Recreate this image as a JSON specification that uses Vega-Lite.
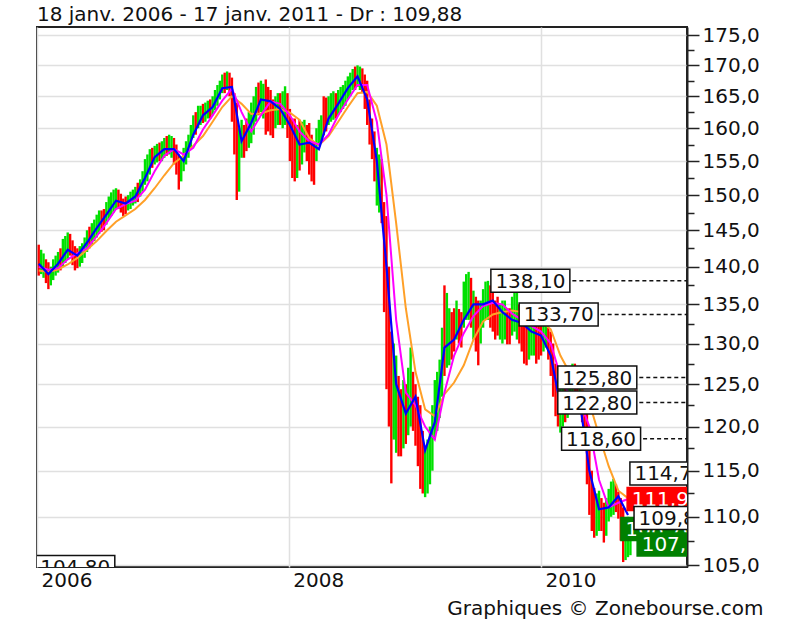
{
  "$schema": "https://vega.github.io/schema/vega-lite/v6.json",
  "width": 650,
  "height": 540,
  "autosize": "none",
  "padding": {"left": 37, "top": 27, "right": 113, "bottom": 55},
  "background": "#ffffff",
  "title": {"text": "18 janv. 2006 - 17 janv. 2011 - Dr : 109,88", "anchor": "start", "frame": "group", "font": "DejaVu Sans", "fontSize": 20, "fontWeight": "normal", "color": "#111111", "offset": 2, "baseline": "bottom", "dy": 22},
  "config": {"view": {"stroke": "#222222", "strokeWidth": 2}},
  "datasets": {
    "bars": [
      {"d":"2006-01-06","l":138.8,"h":143.0,"u":0},
      {"d":"2006-01-20","l":138.5,"h":141.8,"u":1},
      {"d":"2006-02-03","l":137.0,"h":140.6,"u":0},
      {"d":"2006-02-17","l":138.2,"h":141.0,"u":1},
      {"d":"2006-03-03","l":139.2,"h":142.0,"u":1},
      {"d":"2006-03-17","l":140.0,"h":143.8,"u":1},
      {"d":"2006-03-31","l":141.0,"h":144.7,"u":1},
      {"d":"2006-04-14","l":140.2,"h":143.6,"u":0},
      {"d":"2006-04-28","l":139.8,"h":142.5,"u":0},
      {"d":"2006-05-12","l":140.5,"h":143.2,"u":1},
      {"d":"2006-05-26","l":142.0,"h":145.0,"u":1},
      {"d":"2006-06-09","l":143.0,"h":146.0,"u":1},
      {"d":"2006-06-23","l":144.0,"h":147.2,"u":1},
      {"d":"2006-07-07","l":144.8,"h":147.8,"u":0},
      {"d":"2006-07-21","l":145.8,"h":149.0,"u":1},
      {"d":"2006-08-04","l":147.0,"h":150.4,"u":1},
      {"d":"2006-08-18","l":148.0,"h":151.0,"u":1},
      {"d":"2006-09-01","l":147.5,"h":150.2,"u":0},
      {"d":"2006-09-15","l":147.3,"h":149.8,"u":0},
      {"d":"2006-09-29","l":148.0,"h":150.5,"u":1},
      {"d":"2006-10-13","l":148.8,"h":151.2,"u":1},
      {"d":"2006-10-27","l":149.8,"h":152.3,"u":1},
      {"d":"2006-11-10","l":151.5,"h":155.3,"u":1},
      {"d":"2006-11-24","l":153.0,"h":156.8,"u":1},
      {"d":"2006-12-08","l":154.5,"h":157.3,"u":1},
      {"d":"2006-12-22","l":155.0,"h":157.8,"u":0},
      {"d":"2007-01-05","l":155.5,"h":158.5,"u":1},
      {"d":"2007-01-19","l":156.0,"h":159.0,"u":1},
      {"d":"2007-02-02","l":154.5,"h":158.5,"u":0},
      {"d":"2007-02-16","l":150.8,"h":156.0,"u":0},
      {"d":"2007-03-02","l":153.5,"h":157.0,"u":1},
      {"d":"2007-03-16","l":155.5,"h":159.0,"u":1},
      {"d":"2007-03-30","l":158.5,"h":162.0,"u":1},
      {"d":"2007-04-13","l":160.0,"h":163.5,"u":1},
      {"d":"2007-04-27","l":160.8,"h":163.8,"u":0},
      {"d":"2007-05-11","l":161.5,"h":164.3,"u":1},
      {"d":"2007-05-25","l":162.0,"h":165.0,"u":1},
      {"d":"2007-06-08","l":163.5,"h":166.8,"u":1},
      {"d":"2007-06-22","l":165.5,"h":168.5,"u":1},
      {"d":"2007-07-06","l":166.0,"h":169.0,"u":1},
      {"d":"2007-07-20","l":161.0,"h":168.0,"u":0},
      {"d":"2007-08-03","l":149.3,"h":164.0,"u":0},
      {"d":"2007-08-17","l":155.5,"h":161.3,"u":1},
      {"d":"2007-08-31","l":156.5,"h":161.5,"u":0},
      {"d":"2007-09-14","l":157.7,"h":164.0,"u":1},
      {"d":"2007-09-28","l":161.0,"h":166.5,"u":1},
      {"d":"2007-10-12","l":162.5,"h":167.5,"u":1},
      {"d":"2007-10-26","l":159.0,"h":167.7,"u":0},
      {"d":"2007-11-09","l":158.9,"h":166.0,"u":0},
      {"d":"2007-11-23","l":160.0,"h":165.0,"u":1},
      {"d":"2007-12-07","l":160.5,"h":165.5,"u":0},
      {"d":"2007-12-21","l":160.5,"h":166.6,"u":1},
      {"d":"2008-01-04","l":155.0,"h":163.0,"u":0},
      {"d":"2008-01-18","l":152.0,"h":161.5,"u":0},
      {"d":"2008-02-01","l":153.6,"h":161.3,"u":0},
      {"d":"2008-02-15","l":156.3,"h":161.3,"u":1},
      {"d":"2008-02-29","l":153.0,"h":160.8,"u":0},
      {"d":"2008-03-14","l":151.5,"h":158.0,"u":0},
      {"d":"2008-03-28","l":157.7,"h":161.3,"u":1},
      {"d":"2008-04-11","l":158.9,"h":165.0,"u":0},
      {"d":"2008-04-25","l":160.5,"h":165.0,"u":1},
      {"d":"2008-05-09","l":161.3,"h":165.8,"u":1},
      {"d":"2008-05-23","l":162.0,"h":166.0,"u":1},
      {"d":"2008-06-06","l":163.0,"h":166.8,"u":1},
      {"d":"2008-06-20","l":164.5,"h":168.2,"u":1},
      {"d":"2008-07-04","l":166.0,"h":169.4,"u":1},
      {"d":"2008-07-18","l":166.5,"h":170.0,"u":1},
      {"d":"2008-08-01","l":165.5,"h":169.5,"u":0},
      {"d":"2008-08-15","l":160.5,"h":167.5,"u":0},
      {"d":"2008-08-29","l":155.3,"h":161.5,"u":0},
      {"d":"2008-09-12","l":148.5,"h":157.0,"u":1},
      {"d":"2008-09-26","l":146.0,"h":155.3,"u":0},
      {"d":"2008-10-10","l":124.4,"h":147.0,"u":0},
      {"d":"2008-10-24","l":113.6,"h":131.5,"u":0},
      {"d":"2008-11-07","l":117.0,"h":128.5,"u":1},
      {"d":"2008-11-21","l":116.6,"h":124.4,"u":0},
      {"d":"2008-12-05","l":118.0,"h":125.0,"u":0},
      {"d":"2008-12-19","l":120.0,"h":129.5,"u":1},
      {"d":"2009-01-02","l":117.8,"h":125.0,"u":0},
      {"d":"2009-01-16","l":113.0,"h":122.5,"u":0},
      {"d":"2009-01-30","l":112.1,"h":117.5,"u":1},
      {"d":"2009-02-13","l":113.5,"h":120.0,"u":1},
      {"d":"2009-02-27","l":118.5,"h":125.5,"u":1},
      {"d":"2009-03-13","l":121.0,"h":128.0,"u":1},
      {"d":"2009-03-27","l":126.0,"h":137.5,"u":0},
      {"d":"2009-04-10","l":127.3,"h":134.5,"u":1},
      {"d":"2009-04-24","l":129.0,"h":134.5,"u":0},
      {"d":"2009-05-08","l":130.0,"h":134.4,"u":0},
      {"d":"2009-05-22","l":132.0,"h":138.0,"u":1},
      {"d":"2009-06-05","l":133.0,"h":139.3,"u":1},
      {"d":"2009-06-19","l":130.5,"h":136.8,"u":1},
      {"d":"2009-07-03","l":127.3,"h":135.5,"u":0},
      {"d":"2009-07-17","l":132.0,"h":137.0,"u":1},
      {"d":"2009-07-31","l":133.0,"h":138.1,"u":1},
      {"d":"2009-08-14","l":131.5,"h":137.0,"u":0},
      {"d":"2009-08-28","l":131.0,"h":136.0,"u":0},
      {"d":"2009-09-11","l":130.0,"h":135.5,"u":1},
      {"d":"2009-09-25","l":129.9,"h":134.5,"u":0},
      {"d":"2009-10-09","l":131.0,"h":136.0,"u":1},
      {"d":"2009-10-23","l":130.5,"h":136.8,"u":1},
      {"d":"2009-11-06","l":129.0,"h":134.0,"u":0},
      {"d":"2009-11-20","l":127.3,"h":133.5,"u":0},
      {"d":"2009-12-04","l":128.5,"h":133.5,"u":1},
      {"d":"2009-12-18","l":127.5,"h":132.8,"u":0},
      {"d":"2010-01-01","l":128.5,"h":133.4,"u":0},
      {"d":"2010-01-15","l":129.5,"h":132.6,"u":1},
      {"d":"2010-01-29","l":126.0,"h":131.5,"u":0},
      {"d":"2010-02-12","l":121.2,"h":127.5,"u":0},
      {"d":"2010-02-26","l":119.3,"h":125.1,"u":1},
      {"d":"2010-03-12","l":120.5,"h":124.5,"u":0},
      {"d":"2010-03-26","l":121.5,"h":126.0,"u":1},
      {"d":"2010-04-09","l":122.0,"h":127.5,"u":0},
      {"d":"2010-04-23","l":121.6,"h":125.5,"u":1},
      {"d":"2010-05-07","l":118.0,"h":123.5,"u":0},
      {"d":"2010-05-21","l":110.2,"h":120.0,"u":0},
      {"d":"2010-06-04","l":107.8,"h":113.1,"u":0},
      {"d":"2010-06-18","l":108.5,"h":112.8,"u":1},
      {"d":"2010-07-02","l":107.3,"h":111.5,"u":0},
      {"d":"2010-07-16","l":109.5,"h":113.0,"u":1},
      {"d":"2010-07-30","l":110.2,"h":114.1,"u":1},
      {"d":"2010-08-13","l":109.8,"h":112.7,"u":0},
      {"d":"2010-08-27","l":105.3,"h":111.0,"u":0},
      {"d":"2010-09-10","l":105.8,"h":110.0,"u":1},
      {"d":"2006-01-13","l":139.0,"h":142.3,"u":1},
      {"d":"2006-01-27","l":137.8,"h":141.0,"u":0},
      {"d":"2006-02-10","l":137.5,"h":140.0,"u":1},
      {"d":"2006-02-24","l":138.8,"h":141.5,"u":1},
      {"d":"2006-03-10","l":139.5,"h":142.5,"u":0},
      {"d":"2006-03-24","l":140.5,"h":144.2,"u":1},
      {"d":"2006-04-07","l":141.5,"h":144.5,"u":0},
      {"d":"2006-04-21","l":139.5,"h":142.8,"u":0},
      {"d":"2006-05-05","l":140.0,"h":142.8,"u":1},
      {"d":"2006-05-19","l":141.2,"h":144.0,"u":1},
      {"d":"2006-06-02","l":142.5,"h":145.5,"u":0},
      {"d":"2006-06-16","l":143.5,"h":146.5,"u":1},
      {"d":"2006-06-30","l":144.5,"h":147.8,"u":1},
      {"d":"2006-07-14","l":145.0,"h":148.0,"u":0},
      {"d":"2006-07-28","l":146.5,"h":149.8,"u":1},
      {"d":"2006-08-11","l":147.5,"h":150.8,"u":1},
      {"d":"2006-08-25","l":148.0,"h":150.8,"u":0},
      {"d":"2006-09-08","l":147.0,"h":149.5,"u":0},
      {"d":"2006-09-22","l":147.8,"h":150.0,"u":1},
      {"d":"2006-10-06","l":148.5,"h":150.8,"u":1},
      {"d":"2006-10-20","l":149.0,"h":151.8,"u":0},
      {"d":"2006-11-03","l":150.5,"h":153.5,"u":1},
      {"d":"2006-11-17","l":152.0,"h":156.0,"u":1},
      {"d":"2006-12-01","l":154.0,"h":157.0,"u":0},
      {"d":"2006-12-15","l":154.8,"h":157.6,"u":1},
      {"d":"2006-12-29","l":155.0,"h":158.0,"u":1},
      {"d":"2007-01-12","l":155.8,"h":158.8,"u":0},
      {"d":"2007-01-26","l":155.5,"h":158.8,"u":1},
      {"d":"2007-02-09","l":153.0,"h":157.5,"u":0},
      {"d":"2007-02-23","l":152.0,"h":155.5,"u":1},
      {"d":"2007-03-09","l":154.5,"h":158.0,"u":1},
      {"d":"2007-03-23","l":157.0,"h":160.5,"u":1},
      {"d":"2007-04-06","l":159.0,"h":162.5,"u":0},
      {"d":"2007-04-20","l":160.5,"h":163.5,"u":1},
      {"d":"2007-05-04","l":161.0,"h":164.0,"u":1},
      {"d":"2007-05-18","l":161.5,"h":164.5,"u":0},
      {"d":"2007-06-01","l":162.8,"h":166.0,"u":1},
      {"d":"2007-06-15","l":164.5,"h":167.5,"u":1},
      {"d":"2007-06-29","l":165.5,"h":168.8,"u":0},
      {"d":"2007-07-13","l":165.0,"h":168.8,"u":0},
      {"d":"2007-07-27","l":156.0,"h":165.5,"u":0},
      {"d":"2007-08-10","l":150.5,"h":160.0,"u":1},
      {"d":"2007-08-24","l":155.5,"h":160.5,"u":0},
      {"d":"2007-09-07","l":157.0,"h":162.5,"u":1},
      {"d":"2007-09-21","l":159.0,"h":165.0,"u":1},
      {"d":"2007-10-05","l":162.0,"h":167.2,"u":0},
      {"d":"2007-10-19","l":161.5,"h":167.0,"u":1},
      {"d":"2007-11-02","l":159.5,"h":166.5,"u":0},
      {"d":"2007-11-16","l":158.5,"h":164.5,"u":0},
      {"d":"2007-11-30","l":160.5,"h":165.5,"u":1},
      {"d":"2007-12-14","l":160.0,"h":165.8,"u":1},
      {"d":"2007-12-28","l":158.5,"h":165.5,"u":0},
      {"d":"2008-01-11","l":152.5,"h":161.5,"u":0},
      {"d":"2008-01-25","l":152.5,"h":160.5,"u":1},
      {"d":"2008-02-08","l":154.5,"h":161.0,"u":1},
      {"d":"2008-02-22","l":155.0,"h":160.5,"u":0},
      {"d":"2008-03-07","l":152.0,"h":159.0,"u":0},
      {"d":"2008-03-21","l":155.0,"h":160.0,"u":1},
      {"d":"2008-04-04","l":158.0,"h":162.0,"u":1},
      {"d":"2008-04-18","l":159.5,"h":164.8,"u":0},
      {"d":"2008-05-02","l":161.0,"h":165.5,"u":1},
      {"d":"2008-05-16","l":161.5,"h":165.5,"u":0},
      {"d":"2008-05-30","l":162.5,"h":166.5,"u":1},
      {"d":"2008-06-13","l":163.5,"h":167.5,"u":1},
      {"d":"2008-06-27","l":165.0,"h":168.8,"u":1},
      {"d":"2008-07-11","l":166.0,"h":169.8,"u":0},
      {"d":"2008-07-25","l":166.0,"h":169.8,"u":1},
      {"d":"2008-08-08","l":163.0,"h":168.5,"u":0},
      {"d":"2008-08-22","l":157.5,"h":164.5,"u":0},
      {"d":"2008-09-05","l":152.0,"h":159.5,"u":0},
      {"d":"2008-09-19","l":147.5,"h":156.0,"u":1},
      {"d":"2008-10-03","l":134.0,"h":149.0,"u":0},
      {"d":"2008-10-17","l":120.0,"h":140.0,"u":0},
      {"d":"2008-10-31","l":118.5,"h":130.0,"u":1},
      {"d":"2008-11-14","l":116.6,"h":126.0,"u":0},
      {"d":"2008-11-28","l":117.5,"h":125.5,"u":1},
      {"d":"2008-12-12","l":119.0,"h":127.0,"u":1},
      {"d":"2008-12-26","l":119.5,"h":126.5,"u":0},
      {"d":"2009-01-09","l":115.5,"h":123.5,"u":0},
      {"d":"2009-01-23","l":112.5,"h":119.5,"u":0},
      {"d":"2009-02-06","l":112.5,"h":118.5,"u":1},
      {"d":"2009-02-20","l":115.0,"h":122.5,"u":1},
      {"d":"2009-03-06","l":119.5,"h":126.5,"u":1},
      {"d":"2009-03-20","l":123.5,"h":132.0,"u":1},
      {"d":"2009-04-03","l":127.0,"h":136.5,"u":1},
      {"d":"2009-04-17","l":128.0,"h":134.0,"u":0},
      {"d":"2009-05-01","l":130.5,"h":135.5,"u":1},
      {"d":"2009-05-15","l":129.5,"h":134.0,"u":0},
      {"d":"2009-05-29","l":133.0,"h":139.0,"u":1},
      {"d":"2009-06-12","l":132.0,"h":138.5,"u":0},
      {"d":"2009-06-26","l":129.0,"h":136.0,"u":0},
      {"d":"2009-07-10","l":130.0,"h":135.5,"u":1},
      {"d":"2009-07-24","l":133.0,"h":138.0,"u":1},
      {"d":"2009-08-07","l":132.0,"h":137.5,"u":0},
      {"d":"2009-08-21","l":130.5,"h":135.5,"u":0},
      {"d":"2009-09-04","l":130.5,"h":135.0,"u":1},
      {"d":"2009-09-18","l":130.5,"h":135.5,"u":1},
      {"d":"2009-10-02","l":129.9,"h":134.5,"u":0},
      {"d":"2009-10-16","l":131.5,"h":136.8,"u":1},
      {"d":"2009-10-30","l":130.0,"h":135.0,"u":0},
      {"d":"2009-11-13","l":127.5,"h":133.0,"u":0},
      {"d":"2009-11-27","l":128.0,"h":133.5,"u":1},
      {"d":"2009-12-11","l":128.5,"h":133.0,"u":1},
      {"d":"2009-12-25","l":128.0,"h":132.5,"u":0},
      {"d":"2010-01-08","l":129.0,"h":133.4,"u":1},
      {"d":"2010-01-22","l":128.0,"h":132.0,"u":0},
      {"d":"2010-02-05","l":123.5,"h":130.0,"u":0},
      {"d":"2010-02-19","l":120.0,"h":125.5,"u":0},
      {"d":"2010-03-05","l":120.0,"h":124.5,"u":1},
      {"d":"2010-03-19","l":121.0,"h":125.0,"u":1},
      {"d":"2010-04-02","l":121.8,"h":127.5,"u":1},
      {"d":"2010-04-16","l":122.0,"h":126.5,"u":0},
      {"d":"2010-04-30","l":120.5,"h":125.0,"u":0},
      {"d":"2010-05-14","l":113.5,"h":122.0,"u":0},
      {"d":"2010-05-28","l":108.5,"h":115.0,"u":0},
      {"d":"2010-06-11","l":108.0,"h":112.5,"u":1},
      {"d":"2010-06-25","l":108.5,"h":112.0,"u":0},
      {"d":"2010-07-09","l":108.0,"h":112.0,"u":1},
      {"d":"2010-07-23","l":110.0,"h":113.8,"u":1},
      {"d":"2010-08-06","l":110.5,"h":113.5,"u":0},
      {"d":"2010-08-20","l":107.5,"h":112.0,"u":0},
      {"d":"2010-09-03","l":105.5,"h":109.5,"u":1},
      {"d":"2010-09-17","l":106.0,"h":109.9,"u":1}
    ],
    "ma": [
      {"d":"2006-01-06","b":140.4,"m":140.0,"o":139.5},
      {"d":"2006-02-03","b":139.0,"m":139.6,"o":139.3},
      {"d":"2006-03-03","b":140.4,"m":139.8,"o":139.6},
      {"d":"2006-03-31","b":142.3,"m":141.0,"o":140.3},
      {"d":"2006-04-28","b":141.5,"m":141.8,"o":141.2},
      {"d":"2006-05-26","b":143.3,"m":142.5,"o":142.3},
      {"d":"2006-06-23","b":145.3,"m":144.2,"o":143.5},
      {"d":"2006-07-21","b":147.2,"m":146.0,"o":144.9},
      {"d":"2006-08-18","b":149.2,"m":148.0,"o":146.2},
      {"d":"2006-09-15","b":148.8,"m":148.7,"o":147.1},
      {"d":"2006-10-13","b":149.8,"m":149.2,"o":148.0},
      {"d":"2006-11-10","b":152.5,"m":150.8,"o":149.3},
      {"d":"2006-12-08","b":155.6,"m":153.5,"o":151.0},
      {"d":"2007-01-05","b":156.8,"m":155.8,"o":152.9},
      {"d":"2007-02-02","b":156.8,"m":156.8,"o":154.7},
      {"d":"2007-03-02","b":155.0,"m":156.0,"o":155.8},
      {"d":"2007-03-30","b":159.0,"m":157.0,"o":157.3},
      {"d":"2007-04-27","b":162.0,"m":159.8,"o":158.8},
      {"d":"2007-05-25","b":163.3,"m":162.0,"o":161.0},
      {"d":"2007-06-22","b":166.3,"m":164.3,"o":163.3},
      {"d":"2007-07-20","b":166.5,"m":166.2,"o":165.0},
      {"d":"2007-08-17","b":158.0,"m":162.5,"o":163.8},
      {"d":"2007-09-14","b":160.8,"m":159.5,"o":162.2},
      {"d":"2007-10-12","b":164.5,"m":162.0,"o":162.3},
      {"d":"2007-11-09","b":164.2,"m":164.2,"o":162.8},
      {"d":"2007-12-07","b":163.0,"m":163.8,"o":163.0},
      {"d":"2008-01-04","b":160.5,"m":162.0,"o":162.4},
      {"d":"2008-02-01","b":157.5,"m":159.5,"o":161.3},
      {"d":"2008-02-29","b":157.8,"m":158.0,"o":158.5},
      {"d":"2008-03-28","b":156.8,"m":157.5,"o":157.4},
      {"d":"2008-04-25","b":161.5,"m":159.0,"o":158.8},
      {"d":"2008-05-23","b":163.8,"m":162.0,"o":161.0},
      {"d":"2008-06-20","b":166.3,"m":164.5,"o":163.3},
      {"d":"2008-07-18","b":168.2,"m":166.8,"o":165.5},
      {"d":"2008-08-15","b":164.5,"m":166.8,"o":165.7},
      {"d":"2008-09-12","b":155.0,"m":161.0,"o":163.5},
      {"d":"2008-10-10","b":140.0,"m":150.0,"o":157.5},
      {"d":"2008-11-07","b":125.0,"m":133.0,"o":146.0},
      {"d":"2008-12-05","b":121.5,"m":124.0,"o":134.5},
      {"d":"2009-01-02","b":123.5,"m":122.5,"o":126.5},
      {"d":"2009-01-30","b":117.3,"m":120.0,"o":122.0},
      {"d":"2009-02-27","b":120.5,"m":118.5,"o":121.2},
      {"d":"2009-03-27","b":129.5,"m":124.0,"o":123.8},
      {"d":"2009-04-24","b":130.5,"m":128.5,"o":125.2},
      {"d":"2009-05-22","b":133.0,"m":131.3,"o":127.3},
      {"d":"2009-06-19","b":135.0,"m":133.5,"o":130.5},
      {"d":"2009-07-17","b":135.0,"m":134.8,"o":132.8},
      {"d":"2009-08-14","b":135.5,"m":135.2,"o":133.7},
      {"d":"2009-09-11","b":134.0,"m":135.0,"o":134.0},
      {"d":"2009-10-09","b":133.0,"m":133.8,"o":134.2},
      {"d":"2009-11-06","b":132.6,"m":133.0,"o":134.0},
      {"d":"2009-12-04","b":131.5,"m":132.2,"o":133.3},
      {"d":"2010-01-01","b":131.0,"m":131.5,"o":132.8},
      {"d":"2010-01-29","b":128.5,"m":130.0,"o":131.8},
      {"d":"2010-02-26","b":122.5,"m":126.0,"o":128.5},
      {"d":"2010-03-26","b":123.0,"m":123.5,"o":126.3},
      {"d":"2010-04-23","b":123.0,"m":123.0,"o":124.8},
      {"d":"2010-05-21","b":115.0,"m":120.0,"o":122.8},
      {"d":"2010-06-18","b":110.8,"m":114.0,"o":119.0},
      {"d":"2010-07-16","b":111.0,"m":111.0,"o":115.5},
      {"d":"2010-08-13","b":112.2,"m":111.5,"o":112.8},
      {"d":"2010-09-10","b":110.2,"m":111.9,"o":112.0}
    ],
    "labBack": [
      {"d":"2011-01-08","v":114.7,"t":"114,70","k":"ma"},
      {"d":"2010-12-31","v":111.9,"t":"111,90","k":"red"},
      {"d":"2010-12-13","v":108.7,"t":"108,70","k":"green"}
    ],
    "lab": [
      {"d":"2009-12-01","v":138.1,"t":"138,10","k":"level"},
      {"d":"2010-02-21","v":133.7,"t":"133,70","k":"level"},
      {"d":"2010-06-13","v":125.8,"t":"125,80","k":"level"},
      {"d":"2010-06-13","v":122.8,"t":"122,80","k":"level"},
      {"d":"2010-06-24","v":118.6,"t":"118,60","k":"level"},
      {"d":"2006-04-22","v":104.8,"t":"104,80","k":"min"},
      {"d":"2011-01-20","v":109.88,"t":"109,88","k":"ma"},
      {"d":"2011-01-29","v":107.1,"t":"107,10","k":"green"}
    ]
  },
  "layer": [
    {
      "data": {"name": "bars"},
      "mark": {"type": "rule", "strokeWidth": 2.4},
      "encoding": {
        "x": {"field": "d", "type": "temporal",
          "scale": {"domain": [{"year":2006,"month":1,"date":1},{"year":2011,"month":2,"date":28}]},
          "axis": {"values": [{"year":2006,"month":1,"date":1},{"year":2008,"month":1,"date":1},{"year":2010,"month":1,"date":1}],
            "format": "%Y", "labelAlign": "left", "labelBaseline": "top", "labelPadding": 3, "labelOffset": 4,
            "labelFont": "DejaVu Sans", "labelFontSize": 20, "labelColor": "#111111", "labelFlush": false, "labelOverlap": false,
            "ticks": false, "domain": false, "grid": true, "gridColor": "#e0e0e0", "gridWidth": 1.5,
            "title": "Graphiques © Zonebourse.com", "titleFont": "DejaVu Sans", "titleFontSize": 20, "titleFontWeight": "normal",
            "titleColor": "#111111", "titleX": 726, "titleY": 51, "titleAlign": "right", "titleBaseline": "bottom"}},
        "y": {"field": "l", "type": "quantitative", "title": null,
          "scale": {"type": "log", "domain": [104.8, 176.4], "nice": false, "zero": false},
          "axis": {"orient": "right", "title": null,
            "values": [105,107.5,110,112.5,115,117.5,120,122.5,125,127.5,130,132.5,135,137.5,140,142.5,145,147.5,150,152.5,155,157.5,160,162.5,165,167.5,170,172.5,175],
            "labelExpr": "datum.value % 5 == 0 ? replace(format(datum.value, '.1f'), '.', ',') : ''",
            "labelFont": "DejaVu Sans", "labelFontSize": 20, "labelColor": "#111111", "labelPadding": 3, "labelBaseline": "middle",
            "labelFlush": false, "labelOverlap": false,
            "tickColor": "#222222", "tickWidth": 1.5,
            "tickSize": {"condition": {"test": "datum.value % 5 != 0", "value": 7}, "value": 12},
            "domainColor": "#222222", "domainWidth": 2,
            "grid": true, "gridColor": "#e0e0e0", "gridWidth": 1.5,
            "gridOpacity": {"condition": {"test": "datum.value % 5 != 0", "value": 0}, "value": 1}}},
        "y2": {"field": "h"},
        "color": {"field": "u", "type": "nominal", "scale": {"domain": [0, 1], "range": ["#ff0000", "#00e000"]}, "legend": null}
      }
    },
    {
      "data": {"name": "ma"},
      "mark": {"type": "line", "color": "#ffa028", "strokeWidth": 2},
      "encoding": {"x": {"field": "d", "type": "temporal"}, "y": {"field": "o", "type": "quantitative", "title": null}}
    },
    {
      "data": {"name": "ma"},
      "mark": {"type": "line", "color": "#ff00ff", "strokeWidth": 2},
      "encoding": {"x": {"field": "d", "type": "temporal"}, "y": {"field": "m", "type": "quantitative", "title": null}}
    },
    {
      "data": {"name": "ma"},
      "mark": {"type": "line", "color": "#0000ff", "strokeWidth": 2.2},
      "encoding": {"x": {"field": "d", "type": "temporal"}, "y": {"field": "b", "type": "quantitative", "title": null}}
    },
    {
      "data": {"name": "lab"},
      "transform": [{"filter": "datum.k === 'level'"}],
      "mark": {"type": "rule", "color": "#111111", "strokeWidth": 1.5, "strokeDash": [4, 3]},
      "encoding": {
        "x": {"field": "d", "type": "temporal"},
        "x2": {"datum": {"year": 2011, "month": 2, "date": 28}},
        "y": {"field": "v", "type": "quantitative", "title": null}
      }
    },
    {
      "data": {"name": "labBack"},
      "mark": {"type": "rect", "width": 79, "height": 23, "strokeWidth": 1.5, "clip": true},
      "encoding": {
        "x": {"field": "d", "type": "temporal"},
        "y": {"field": "v", "type": "quantitative", "title": null},
        "fill": {"condition": [{"test": "datum.k === 'red'", "value": "#ff0000"}, {"test": "datum.k === 'green'", "value": "#008000"}], "value": "#ffffff"},
        "stroke": {"condition": [{"test": "datum.k === 'red'", "value": "#ff0000"}, {"test": "datum.k === 'green'", "value": "#008000"}], "value": "#111111"}
      }
    },
    {
      "data": {"name": "labBack"},
      "mark": {"type": "text", "font": "DejaVu Sans", "fontSize": 20, "align": "center", "baseline": "middle", "dy": 1, "clip": true},
      "encoding": {
        "x": {"field": "d", "type": "temporal"},
        "y": {"field": "v", "type": "quantitative", "title": null},
        "text": {"field": "t"},
        "color": {"condition": {"test": "datum.k === 'red' || datum.k === 'green'", "value": "#ffffff"}, "value": "#111111"}
      }
    },
    {
      "data": {"name": "lab"},
      "mark": {"type": "rect", "width": 79, "height": 23, "strokeWidth": 1.5, "clip": true},
      "encoding": {
        "x": {"field": "d", "type": "temporal"},
        "y": {"field": "v", "type": "quantitative", "title": null},
        "fill": {"condition": [{"test": "datum.k === 'red'", "value": "#ff0000"}, {"test": "datum.k === 'green'", "value": "#008000"}], "value": "#ffffff"},
        "stroke": {"condition": [{"test": "datum.k === 'red'", "value": "#ff0000"}, {"test": "datum.k === 'green'", "value": "#008000"}], "value": "#111111"}
      }
    },
    {
      "data": {"name": "lab"},
      "mark": {"type": "text", "font": "DejaVu Sans", "fontSize": 20, "align": "center", "baseline": "middle", "dy": 1, "clip": true},
      "encoding": {
        "x": {"field": "d", "type": "temporal"},
        "y": {"field": "v", "type": "quantitative", "title": null},
        "text": {"field": "t"},
        "color": {"condition": {"test": "datum.k === 'red' || datum.k === 'green'", "value": "#ffffff"}, "value": "#111111"}
      }
    },
    {
      "mark": {"type": "rule", "color": "#222222", "strokeWidth": 2},
      "encoding": {
        "x": {"datum": {"year": 2011, "month": 2, "date": 28}, "type": "temporal"},
        "x2": {"datum": {"year": 2011, "month": 11, "date": 10}},
        "y": {"datum": 176.4, "type": "quantitative", "title": null}
      }
    },
    {
      "mark": {"type": "rule", "color": "#222222", "strokeWidth": 2},
      "encoding": {
        "x": {"datum": {"year": 2011, "month": 11, "date": 10}, "type": "temporal"},
        "y": {"datum": 176.4, "type": "quantitative", "title": null},
        "y2": {"datum": 101.91}
      }
    },
    {
      "mark": {"type": "rule", "color": "#222222", "strokeWidth": 2},
      "encoding": {
        "x": {"datum": {"year": 2006, "month": 1, "date": 1}, "type": "temporal"},
        "x2": {"datum": {"year": 2011, "month": 11, "date": 10}},
        "y": {"datum": 101.91, "type": "quantitative", "title": null}
      }
    },
    {
      "mark": {"type": "rule", "color": "#222222", "strokeWidth": 2},
      "encoding": {
        "x": {"datum": {"year": 2006, "month": 1, "date": 1}, "type": "temporal"},
        "y": {"datum": 104.8, "type": "quantitative", "title": null},
        "y2": {"datum": 101.91}
      }
    },
    {
      "mark": {"type": "rule", "color": "#222222", "strokeWidth": 2},
      "encoding": {
        "x": {"datum": {"year": 2011, "month": 2, "date": 28}, "type": "temporal"},
        "y": {"datum": 104.8, "type": "quantitative", "title": null},
        "y2": {"datum": 101.91}
      }
    }
  ]
}
